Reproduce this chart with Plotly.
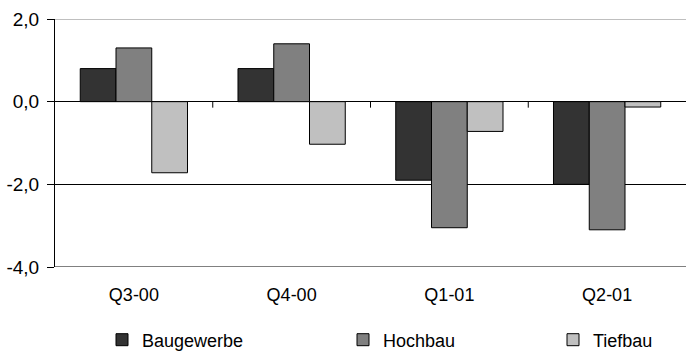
import plotly.graph_objects as go

categories = ["Q3-00", "Q4-00", "Q1-01", "Q2-01"]
baugewerbe = [0.8, 0.8, -1.9, -2.0]
hochbau = [1.3, 1.4, -3.05, -3.1]
tiefbau = [-1.72, -1.03, -0.72, -0.13]
y_ticks = [2.0, 0.0, -2.0, -4.0]
y_tick_labels = ["2,0", "0,0", "-2,0", "-4,0"]

series = [
    ("Baugewerbe", baugewerbe, "#333333", "legend", 102),
    ("Hochbau", hochbau, "#808080", "legend2", 343),
    ("Tiefbau", tiefbau, "#C0C0C0", "legend3", 553),
]

W, H = 686, 353
legend_font = dict(family="Liberation Sans", size=18, color="black")
x_font = dict(family="Liberation Sans", size=18, color="black")
y_font = dict(family="Liberation Sans", size=19, color="black")

fig = go.Figure()
layout_legends = {}
for name, vals, color, leg, lx in series:
    fig.add_trace(go.Bar(
        x=categories, y=vals, name=name, legend=leg, showlegend=True,
        marker=dict(color=color, line=dict(color="black", width=1)),
    ))
    layout_legends[leg] = dict(
        x=lx / W, y=(H - 340) / H, xref="container", yref="container",
        xanchor="left", yanchor="middle", visible=True,
        orientation="h", font=legend_font, itemwidth=30,
        bgcolor="rgba(0,0,0,0)", borderwidth=0,
    )

shapes = []
# category separator ticks on the zero line
for i in range(1, len(categories)):
    shapes.append(dict(type="line", xref="x", yref="y", x0=i - 0.5, x1=i - 0.5,
                       ysizemode="pixel", yanchor=0, y0=0, y1=-6,
                       line=dict(color="black", width=1)))
# plot-area border lines (top & bottom)
shapes.append(dict(type="line", xref="paper", yref="y", x0=0, x1=1, y0=max(y_ticks), y1=max(y_ticks),
                   line=dict(color="#808080", width=1)))
shapes.append(dict(type="line", xref="paper", yref="y", x0=0, x1=1, y0=min(y_ticks), y1=min(y_ticks),
                   line=dict(color="#808080", width=2)))

fig.update_layout(
    width=W, height=H,
    margin=dict(l=55, r=0, t=19, b=86, autoexpand=False),
    paper_bgcolor="white", plot_bgcolor="white",
    font=legend_font, showlegend=True,
    barmode="group", bargap=0.32, bargroupgap=0,
    shapes=shapes,
    **layout_legends,
)
fig.update_xaxes(
    type="category", showgrid=False, showline=False, zeroline=False, automargin=False,
    ticks="", ticklabelstandoff=15, tickfont=x_font,
)
fig.update_yaxes(
    range=[min(y_ticks), max(y_ticks)], tickvals=y_ticks, ticktext=y_tick_labels,
    showgrid=True, gridcolor="black", gridwidth=1, automargin=False,
    zeroline=True, zerolinecolor="black", zerolinewidth=1,
    showline=True, linecolor="black", linewidth=1,
    ticks="outside", ticklen=7, tickcolor="black", tickfont=y_font,
    ticklabelstandoff=4,
)

fig.write_html(
    "out.html",
    config={"displayModeBar": False},
    post_script="document.body.style.margin='0';document.body.style.overflow='hidden';",
)
